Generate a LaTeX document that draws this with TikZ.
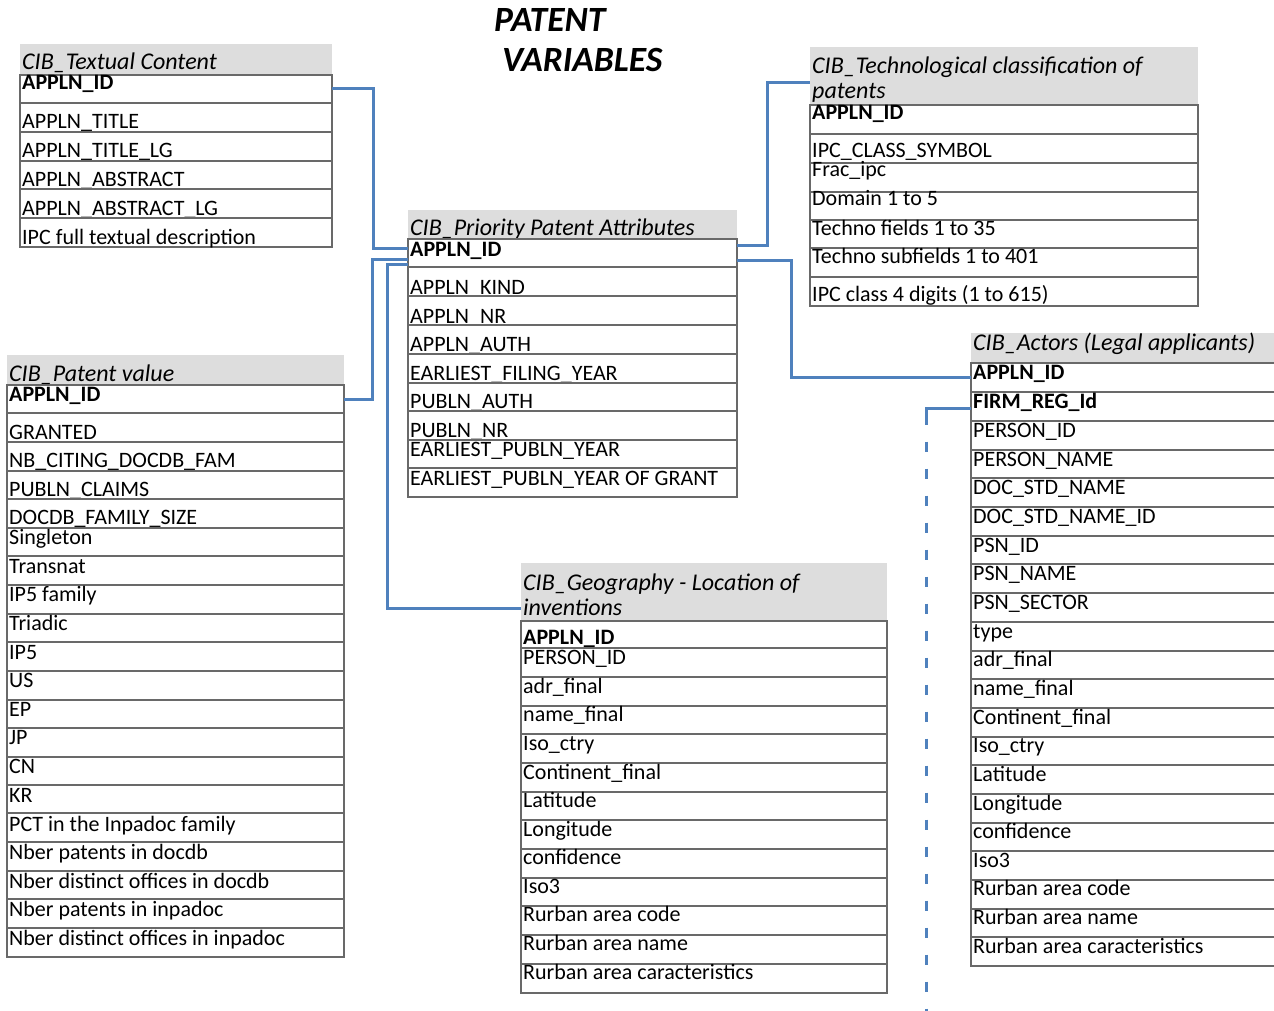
\documentclass[tikz,border=0pt]{standalone}
\usepackage{fontspec}
\setmainfont{Carlito}
\usepackage{tikz}
\usetikzlibrary{positioning}
\definecolor{linkblue}{RGB}{79,129,189}
\definecolor{hdrgray}{RGB}{221,221,221}
\definecolor{rulegray}{RGB}{105,105,105}
\newcommand{\rowfont}{\fontsize{22}{24}\selectfont}
\newcommand{\hdrfont}{\fontsize{24}{26}\selectfont\itshape}

\begin{document}
\begin{tikzpicture}[x=1pt,y=-1pt,
  rowbox/.style={draw=rulegray,line width=1.3pt,inner sep=0pt,outer sep=0pt,anchor=north west},
  headbox/.style={fill=hdrgray,inner sep=0pt,outer sep=0pt,anchor=north west},
  rowtxt/.style={anchor=base west,inner sep=0pt,font=\rowfont},
  hdrtxt/.style={anchor=base west,inner sep=0pt,font=\hdrfont},
  link/.style={draw=linkblue,line width=3pt}]
\useasboundingbox (0,0) rectangle (1274,1011);
\clip (0,0) rectangle (1274,1011);
% title
\node[anchor=base west,inner sep=0pt,font=\fontsize{35.5}{40}\selectfont\bfseries\itshape] (title1) at (494,32) {PATENT};
\node[anchor=base west,inner sep=0pt,font=\fontsize{35.5}{40}\selectfont\bfseries\itshape] (title2) at (502,72) {VARIABLES};
% CIB_Textual Content
\node[headbox,minimum width=312,minimum height=31] (tc-h) at (20,44) {};
\node[hdrtxt] (tc-t) at (22,70) {CIB\_Textual Content};
\foreach \b/\c/\t [count=\i, remember=\b as \a (initially 75)] in {103/90/\textbf{APPLN\_ID}, 132/129/APPLN\_TITLE,
    161/158/APPLN\_TITLE\_LG, 189/187/APPLN\_ABSTRACT, 218/215/APPLN\_ABSTRACT\_LG, 247/244/IPC full textual description}{
  \node[rowbox,minimum width=312,minimum height=\b-\a] (tc-\i) at (20,\a) {};
  \node[rowtxt] (tc-t\i) at (22,\c) {\t};
}
% CIB_Priority Patent Attributes
\node[headbox,minimum width=329,minimum height=29] (pr-h) at (408,210) {};
\node[hdrtxt] (pr-t) at (410,235) {CIB\_Priority Patent Attributes};
\foreach \b/\c/\t [count=\i, remember=\b as \a (initially 239)] in {267/256/\textbf{APPLN\_ID}, 296/294/APPLN\_KIND,
    325/323/APPLN\_NR, 354/351/APPLN\_AUTH, 383/380/EARLIEST\_FILING\_YEAR, 411/408/PUBLN\_AUTH, 440/437/PUBLN\_NR,
    468/456/EARLIEST\_PUBLN\_YEAR, 497/485/EARLIEST\_PUBLN\_YEAR OF GRANT}{
  \node[rowbox,minimum width=329,minimum height=\b-\a] (pr-\i) at (408,\a) {};
  \node[rowtxt] (pr-t\i) at (410,\c) {\t};
}
% CIB_Technological classification of patents
\node[headbox,minimum width=388,minimum height=58] (tech-h) at (810,47) {};
\node[hdrtxt] (tech-t1) at (812,74) {CIB\_Technological classification of};
\node[hdrtxt] (tech-t2) at (812,99) {patents};
\foreach \b/\c/\t [count=\i, remember=\b as \a (initially 105)] in {134/120/\textbf{APPLN\_ID}, 163/158/IPC\_CLASS\_SYMBOL,
    192/177/Frac\_ipc, 220/206/Domain 1 to 5, 248/235/Techno fields 1 to 35, 277/263/Techno subfields 1 to 401,
    306/301/IPC class 4 digits (1 to 615)}{
  \node[rowbox,minimum width=388,minimum height=\b-\a] (tech-\i) at (810,\a) {};
  \node[rowtxt] (tech-t\i) at (812,\c) {\t};
}
% CIB_Patent value
\node[headbox,minimum width=337,minimum height=30] (pv-h) at (7,355) {};
\node[hdrtxt] (pv-t) at (9,381) {CIB\_Patent value};
\foreach \b/\c/\t [count=\i, remember=\b as \a (initially 385)] in {413/401/\textbf{APPLN\_ID}, 442/439/GRANTED,
    471/467/NB\_CITING\_DOCDB\_FAM, 499/496/PUBLN\_CLAIMS, 528/524/DOCDB\_FAMILY\_SIZE, 556/544/Singleton,
    585/573/Transnat, 614/601/IP5 family, 642/630/Triadic, 671/659/IP5, 700/687/US, 728/716/EP, 757/744/JP,
    785/773/CN, 813/802/KR, 842/831/PCT in the Inpadoc family, 871/859/Nber patents in docdb,
    899/888/Nber distinct offices in docdb, 928/916/Nber patents in inpadoc, 957/945/Nber distinct offices in inpadoc}{
  \node[rowbox,minimum width=337,minimum height=\b-\a] (pv-\i) at (7,\a) {};
  \node[rowtxt] (pv-t\i) at (9,\c) {\t};
}
% CIB_Geography - Location of inventions
\node[headbox,minimum width=366,minimum height=58] (geo-h) at (521,563) {};
\node[hdrtxt] (geo-t1) at (523,590) {CIB\_Geography - Location of};
\node[hdrtxt] (geo-t2) at (523,615) {inventions};
\foreach \b/\c/\t [count=\i, remember=\b as \a (initially 621)] in {648/644/\textbf{APPLN\_ID}, 677/664/PERSON\_ID,
    706/693/adr\_final, 734/721/name\_final, 763/750/Iso\_ctry, 792/779/Continent\_final, 820/807/Latitude,
    849/836/Longitude, 878/864/confidence, 906/893/Iso3, 935/921/Rurban area code, 964/950/Rurban area name,
    993/979/Rurban area caracteristics}{
  \node[rowbox,minimum width=366,minimum height=\b-\a] (geo-\i) at (521,\a) {};
  \node[rowtxt] (geo-t\i) at (523,\c) {\t};
}
% CIB_Actors (Legal applicants), runs past the right edge
\node[headbox,minimum width=330,minimum height=30] (act-h) at (971,333) {};
\node[hdrtxt] (act-t) at (973,350) {CIB\_Actors (Legal applicants)};
\foreach \b/\c/\t [count=\i, remember=\b as \a (initially 363)] in {392/379/\textbf{APPLN\_ID}, 421/408/\textbf{FIRM\_REG\_Id},
    450/437/PERSON\_ID, 478/466/PERSON\_NAME, 507/494/DOC\_STD\_NAME, 536/523/DOC\_STD\_NAME\_ID, 564/552/PSN\_ID,
    593/580/PSN\_NAME, 622/609/PSN\_SECTOR, 651/638/type, 679/666/adr\_final, 708/695/name\_final,
    737/724/Continent\_final, 765/752/Iso\_ctry, 794/781/Latitude, 823/810/Longitude, 851/838/confidence,
    880/867/Iso3, 909/895/Rurban area code, 937/924/Rurban area name, 966/953/Rurban area caracteristics}{
  \node[rowbox,minimum width=330,minimum height=\b-\a] (act-\i) at (971,\a) {};
  \node[rowtxt] (act-t\i) at (973,\c) {\t};
}
% links on APPLN_ID
\draw[link] (tc-1.east) -- ++(41,0) |- ([yshift=5pt]pr-1.west);
\draw[link] (pv-1.east) -- ++(28,0) |- ([yshift=-6pt]pr-1.west);
\draw[link] ([yshift=-11pt]pr-1.west) -- ++(-21,0) |- ([yshift=-16pt]geo-h.west);
\draw[link] ([yshift=8pt]pr-1.east) -- ++(30,0) |- ([yshift=-7pt]tech-h.west);
\draw[link] ([yshift=-7pt]pr-1.east) -- ++(54,0) |- (act-1.west);
% FIRM_REG_Id goes on off the page
\draw[link] ([yshift=-2pt]act-2.west) -- ++(-45,0) -- ++(0,16) coordinate (firm-turn);
\coordinate (firm-end) at (926,1015);
\draw[link,dash pattern=on 10pt off 17pt,dash phase=10pt] (firm-turn) -- (firm-end);
\end{tikzpicture}
\end{document}
